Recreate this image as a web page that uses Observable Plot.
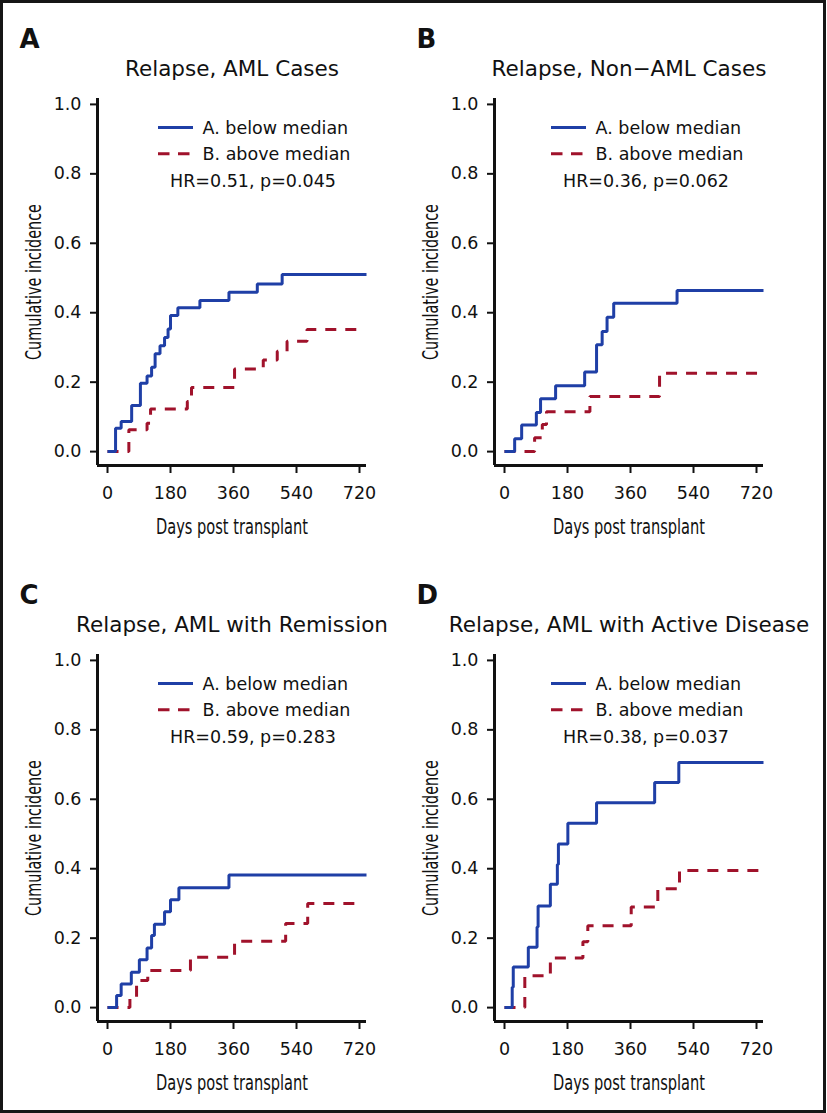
<!DOCTYPE html>
<html><head><meta charset="utf-8">
<script src="https://cdn.jsdelivr.net/npm/d3@7"></script>
<script src="https://cdn.jsdelivr.net/npm/@observablehq/plot@0.6"></script>
<style>
body{margin:0;background:#fff;}
#wrap{position:relative;width:827px;height:1113px;overflow:hidden;background:#fff;}
#border{position:absolute;left:0;top:0;width:826px;height:1113px;box-sizing:border-box;border:3px solid #161616;pointer-events:none;z-index:5;}
</style></head><body>
<div id="wrap"><div id="border"></div></div>
<script>
// ---- labels ----
const panelLetters = ["A", "B", "C", "D"];
const panelTitles = ["Relapse, AML Cases", "Relapse, Non\u2212AML Cases", "Relapse, AML with Remission", "Relapse, AML with Active Disease"];
const hrLabels = ["HR=0.51, p=0.045", "HR=0.36, p=0.062", "HR=0.59, p=0.283", "HR=0.38, p=0.037"];
const seriesNames = ["A. below median", "B. above median"];
const xLabel = "Days post transplant";
const yLabel = "Cumulative incidence";
const xTicks = [0, 180, 360, 540, 720];
const yTicks = [0, 0.2, 0.4, 0.6, 0.8, 1.0];

// ---- data: step points (days post transplant, cumulative incidence) ----
const aBelowDays = [0, 23, 39, 69, 94, 113, 126, 136, 150, 163, 173, 180, 201, 264, 347, 428, 499, 740];
const aBelowCI   = [0, 0.067, 0.087, 0.133, 0.197, 0.218, 0.243, 0.282, 0.305, 0.329, 0.353, 0.392, 0.414, 0.435, 0.459, 0.483, 0.510, 0.510];
const aAboveDays = [0, 61, 113, 123, 228, 240, 363, 445, 485, 513, 570, 731];
const aAboveCI   = [0, 0.063, 0.082, 0.123, 0.144, 0.185, 0.238, 0.264, 0.289, 0.318, 0.352, 0.352];

const bBelowDays = [0, 29, 49, 91, 103, 146, 229, 263, 279, 293, 312, 493, 740];
const bBelowCI   = [0, 0.037, 0.077, 0.113, 0.152, 0.190, 0.229, 0.308, 0.346, 0.387, 0.427, 0.464, 0.464];
const bAboveDays = [0, 86, 108, 120, 244, 443, 725];
const bAboveCI   = [0, 0.040, 0.078, 0.115, 0.159, 0.226, 0.226];

const cBelowDays = [0, 26, 39, 68, 91, 113, 126, 134, 163, 180, 204, 347, 740];
const cBelowCI   = [0, 0.035, 0.068, 0.102, 0.138, 0.172, 0.208, 0.240, 0.276, 0.311, 0.345, 0.382, 0.382];
const cAboveDays = [0, 64, 83, 115, 237, 363, 509, 572, 713];
const cAboveCI   = [0, 0.030, 0.078, 0.107, 0.145, 0.191, 0.242, 0.300, 0.300];

const dBelowDays = [0, 22, 25, 68, 93, 96, 131, 151, 154, 181, 263, 429, 498, 740];
const dBelowCI   = [0, 0.059, 0.117, 0.174, 0.232, 0.293, 0.355, 0.412, 0.471, 0.531, 0.590, 0.648, 0.706, 0.706];
const dAboveDays = [0, 58, 131, 224, 238, 362, 438, 500, 742];
const dAboveCI   = [0, 0.092, 0.143, 0.190, 0.236, 0.290, 0.342, 0.395, 0.395];

const panels = [
  {below: [aBelowDays, aBelowCI], above: [aAboveDays, aAboveCI], shift: 0},
  {below: [bBelowDays, bBelowCI], above: [bAboveDays, bAboveCI], shift: -4},
  {below: [cBelowDays, cBelowCI], above: [cAboveDays, cAboveCI], shift: 0},
  {below: [dBelowDays, dBelowCI], above: [dAboveDays, dAboveCI], shift: -4}
];

const BLUE = "#1f3fa6";
const RED = "#a0122b";
const DASH = "11,9";
const SANS = "'DejaVu Sans', 'Liberation Sans', sans-serif";
const NARROW = "'Liberation Sans Narrow', 'DejaVu Sans Condensed', 'Arial Narrow', 'DejaVu Sans', sans-serif";
const xDomain = [-28.6, 740];
const yDomain = [-0.04, 1.017];

const toRows = ([days, ci]) => days.map((d, k) => ({day: d, ci: ci[k]}));

const wrap = document.getElementById("wrap");

panels.forEach((p, i) => {
  const s = p.shift;
  const svg = Plot.plot({
    width: 413, height: 556,
    marginLeft: 97, marginRight: 47, marginTop: 98, marginBottom: 91,
    style: {fontFamily: SANS, fontSize: "17.5px", color: "#111", background: "transparent", overflow: "visible"},
    x: {domain: xDomain, label: null},
    y: {domain: yDomain, label: null},
    marks: [
      Plot.axisX({ticks: xTicks, tickSize: 8, tickPadding: 13, strokeWidth: 2, label: null, fontSize: 17.5}),
      Plot.axisY({ticks: yTicks, tickSize: 7, tickPadding: 9, strokeWidth: 2, label: null, fontSize: 17.5, tickFormat: d => d.toFixed(1)}),
      Plot.ruleX([xDomain[0]], {stroke: "#111", strokeWidth: 3}),
      Plot.ruleY([yDomain[0]], {stroke: "#111", strokeWidth: 3}),
      Plot.line(toRows(p.above), {x: "day", y: "ci", curve: "step-after", stroke: RED, strokeWidth: 3, strokeDasharray: DASH, strokeLinecap: "butt", strokeLinejoin: "miter"}),
      Plot.line(toRows(p.below), {x: "day", y: "ci", curve: "step-after", stroke: BLUE, strokeWidth: 3, strokeLinecap: "butt", strokeLinejoin: "miter"}),
      Plot.text([panelTitles[i]], {text: d => d, frameAnchor: "top", dy: -22.5, lineAnchor: "bottom", fontSize: 21.5, fill: "#111"}),
      Plot.text([panelLetters[i]], {text: d => d, frameAnchor: "top-left", dx: -78, dy: -51, textAnchor: "start", lineAnchor: "bottom", fontSize: 26, fontWeight: "bold", fill: "#111"}),
      Plot.text([yLabel], {text: d => d, frameAnchor: "left", dx: -57, rotate: -90, textAnchor: "middle", lineAnchor: "bottom", fontFamily: NARROW, fontSize: 21.5, fill: "#111", className: "ylab"}),
      Plot.text([xLabel], {text: d => d, frameAnchor: "bottom", dy: 68, textAnchor: "middle", lineAnchor: "bottom", fontFamily: NARROW, fontSize: 21.5, fill: "#111", className: "xlab"}),
      Plot.text([seriesNames[0]], {text: d => d, frameAnchor: "top-left", dx: 105 + s, dy: 35, textAnchor: "start", lineAnchor: "bottom", fontSize: 17.5, fill: "#111"}),
      Plot.text([seriesNames[1]], {text: d => d, frameAnchor: "top-left", dx: 105 + s, dy: 61.5, textAnchor: "start", lineAnchor: "bottom", fontSize: 17.5, fill: "#111"}),
      Plot.text([hrLabels[i]], {text: d => d, frameAnchor: "top-left", dx: 155.5 + s, dy: 88.3, textAnchor: "middle", lineAnchor: "bottom", fontSize: 17.5, fill: "#111"})
    ]
  });
  // condensed look for the axis titles (no condensed font installed): squeeze to the reference width
  d3.select(svg).selectAll("text").each(function() {
    const t = this.textContent;
    if (t === xLabel) d3.select(this).attr("textLength", 152).attr("lengthAdjust", "spacingAndGlyphs");
    if (t === yLabel) d3.select(this).attr("textLength", 156).attr("lengthAdjust", "spacingAndGlyphs");
  });
  // legend swatches
  const g = d3.select(svg).append("g");
  g.append("line").attr("x1", 158 + s).attr("x2", 193 + s).attr("y1", 127.5).attr("y2", 127.5)
    .attr("stroke", BLUE).attr("stroke-width", 3);
  g.append("line").attr("x1", 158 + s).attr("x2", 193 + s).attr("y1", 153.7).attr("y2", 153.7)
    .attr("stroke", RED).attr("stroke-width", 3).attr("stroke-dasharray", "11.5,8.5");
  svg.style.position = "absolute";
  svg.style.left = ((i % 2) * 397) + "px";
  svg.style.top = (Math.floor(i / 2) * 556) + "px";
  wrap.appendChild(svg);
});
</script>
</body></html>
